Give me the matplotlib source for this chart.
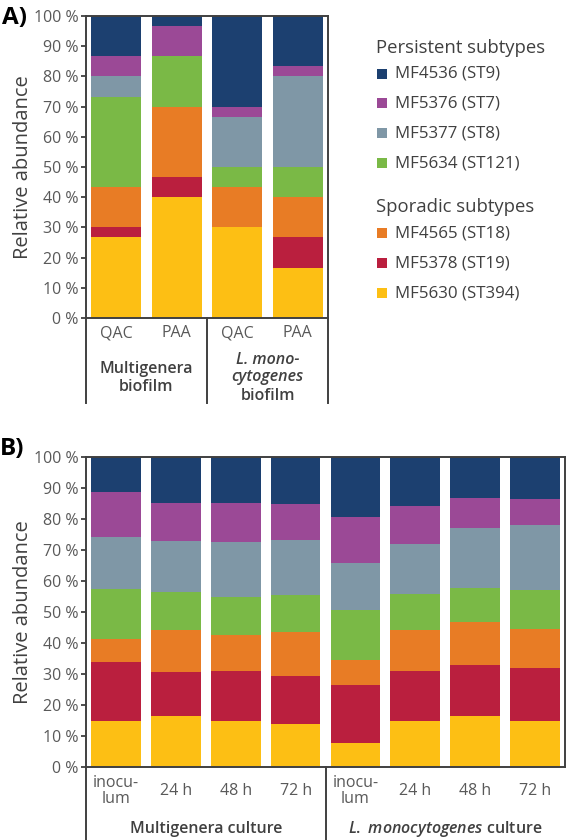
import matplotlib
matplotlib.use('Agg')
import matplotlib.pyplot as plt
import matplotlib.transforms as mtransforms
from matplotlib.patches import Rectangle
import numpy as np

plt.rcParams['font.family'] = ['Open Sans', 'DejaVu Sans']
plt.rcParams['mathtext.fontset'] = 'custom'
plt.rcParams['mathtext.it'] = 'Open Sans:italic:semibold'
plt.rcParams['mathtext.rm'] = 'Open Sans:semibold'

# strains, bottom to top of each stack
strains = ['MF5630 (ST394)', 'MF5378 (ST19)', 'MF4565 (ST18)', 'MF5634 (ST121)',
           'MF5377 (ST8)', 'MF5376 (ST7)', 'MF4536 (ST9)']
colors = ['#FDBF14', '#BA1F3E', '#E87C25', '#7AB946', '#7F97A6', '#9B4996', '#1C4070']

# panel A: QAC, PAA (multigenera) ; QAC, PAA (L. monocytogenes)
catsA = ['QAC', 'PAA', 'QAC', 'PAA']
A_MF5630 = [26.7, 40.0, 30.0, 16.7]
A_MF5378 = [3.3, 6.7, 0.0, 10.0]
A_MF4565 = [13.3, 23.3, 13.3, 13.3]
A_MF5634 = [30.0, 16.7, 6.7, 10.0]
A_MF5377 = [6.7, 0.0, 16.7, 30.0]
A_MF5376 = [6.7, 10.0, 3.3, 3.3]
A_MF4536 = [13.3, 3.3, 30.0, 16.7]

# panel B: inoculum, 24 h, 48 h, 72 h (multigenera) ; same for L. monocytogenes
catsB = ['inocu-\nlum', '24 h', '48 h', '72 h', 'inocu-\nlum', '24 h', '48 h', '72 h']
B_MF5630 = [14.9, 16.3, 15.0, 13.8, 7.8, 15.0, 16.5, 15.0]
B_MF5378 = [19.0, 14.4, 15.9, 15.4, 18.8, 16.1, 16.4, 16.8]
B_MF4565 = [7.4, 13.4, 11.8, 14.3, 8.0, 13.1, 13.9, 12.7]
B_MF5634 = [16.0, 12.4, 12.1, 11.9, 16.2, 11.6, 10.9, 12.6]
B_MF5377 = [16.9, 16.3, 17.8, 17.9, 15.0, 16.2, 19.3, 20.9]
B_MF5376 = [14.4, 12.5, 12.7, 11.5, 14.9, 12.1, 9.9, 8.6]
B_MF4536 = [11.4, 14.7, 14.7, 15.2, 19.3, 15.9, 13.1, 13.4]

dataA = [A_MF5630, A_MF5378, A_MF4565, A_MF5634, A_MF5377, A_MF5376, A_MF4536]
dataB = [B_MF5630, B_MF5378, B_MF4565, B_MF5634, B_MF5377, B_MF5376, B_MF4536]

W, H = 567, 840
TXT = '#595959'
DARK = '#404040'

fig = plt.figure(figsize=(W / 100, H / 100), dpi=100)


def add_ax(l, t, r, b):
    return fig.add_axes([l / W, 1 - b / H, (r - l) / W, (b - t) / H])


def draw_stack(ax, data, cats):
    n = len(cats)
    x = np.arange(n)
    bottom = np.zeros(n)
    for vals, c in zip(data, colors):
        ax.bar(x, vals, 0.83, bottom=bottom, color=c, linewidth=0)
        bottom += np.array(vals)
    ax.set_xlim(-0.5, n - 0.5)
    ax.set_ylim(0, 100)
    ax.set_yticks(range(0, 101, 10))
    ax.set_yticklabels([str(v) + ' %' for v in range(0, 101, 10)])
    ax.set_xticks([])
    for s in ax.spines.values():
        s.set_color(DARK)
        s.set_linewidth(1.4)
    ax.tick_params(axis='y', direction='out', length=3.5, width=1.3, color=DARK,
                   labelsize=11.5, labelcolor=TXT, pad=2)


# ---------------- panel A
tA, bA = 16, 318
axA = add_ax(86, tA, 328, bA)
draw_stack(axA, dataA, catsA)
trA = mtransforms.blended_transform_factory(axA.transData, axA.transAxes)


def yA(py):
    return (bA - py) / (bA - tA)


for i, c in enumerate(catsA):
    axA.text(i, yA(333), c, transform=trA, ha='center', va='center', fontsize=11.5, color=TXT)
axA.text(0.5, yA(369), 'Multigenera', transform=trA, ha='center', va='center',
         fontsize=11.5, fontweight='semibold', color=DARK)
axA.text(0.5, yA(387), 'biofilm', transform=trA, ha='center', va='center',
         fontsize=11.5, fontweight='semibold', color=DARK)
axA.text(2.5, yA(360), 'L. mono-', transform=trA, ha='center', va='center',
         fontsize=11.5, fontweight='semibold', style='italic', color=DARK)
axA.text(2.5, yA(377), 'cytogenes', transform=trA, ha='center', va='center',
         fontsize=11.5, fontweight='semibold', style='italic', color=DARK)
axA.text(2.5, yA(396), 'biofilm', transform=trA, ha='center', va='center',
         fontsize=11.5, fontweight='semibold', color=DARK)
for xv in [-0.5, 1.5, 3.5]:
    axA.plot([xv, xv], [0, yA(403)], transform=trA, color=DARK, lw=1.4, clip_on=False)
axA.text((23 - 86) / 242, 0.5, 'Relative abundance', transform=axA.transAxes, rotation=90,
         ha='center', va='center', fontsize=14.5, color=DARK)

# ---------------- panel B
tB, bB = 457, 767
axB = add_ax(86, tB, 565, bB)
draw_stack(axB, dataB, catsB)
trB = mtransforms.blended_transform_factory(axB.transData, axB.transAxes)


def yB(py):
    return (bB - py) / (bB - tB)


for i, c in enumerate(catsB):
    axB.text(i, yB(791), c, transform=trB, ha='center', va='center', fontsize=11.5,
             color=TXT, linespacing=1.05)
axB.text(1.5, yB(829), 'Multigenera culture', transform=trB, ha='center', va='center',
         fontsize=11.5, fontweight='semibold', color=DARK)
axB.text(5.5, yB(829), r'$\mathit{L.\ monocytogenes}$ culture', transform=trB,
         ha='center', va='center', fontsize=11.5, fontweight='semibold', color=DARK)
for xv in [-0.5, 3.5]:
    axB.plot([xv, xv], [0, yB(840)], transform=trB, color=DARK, lw=1.4, clip_on=False)
axB.text((23 - 86) / 479, 0.5, 'Relative abundance', transform=axB.transAxes, rotation=90,
         ha='center', va='center', fontsize=14.5, color=DARK)

# panel letters
fig.text(2 / W, 1 - 18 / H, 'A)', ha='left', va='center', fontsize=17.5, fontweight='bold', color='black')
fig.text(0 / W, 1 - 449 / H, 'B)', ha='left', va='center', fontsize=17.5, fontweight='bold', color='black')

# ---------------- legend
legend_groups = [('Persistent subtypes', 48, [6, 5, 4, 3], [74, 103, 133, 163]),
                 ('Sporadic subtypes', 207, [2, 1, 0], [233, 263, 293])]
for title, ty, idx, rows in legend_groups:
    fig.text(376 / W, 1 - ty / H, title, ha='left', va='center', fontsize=13.3, color=DARK)
    for k, ry in zip(idx, rows):
        fig.patches.append(Rectangle((377 / W, 1 - (ry + 5) / H), 10 / W, 10 / H,
                                     transform=fig.transFigure, facecolor=colors[k],
                                     edgecolor='none'))
        fig.text(395 / W, 1 - ry / H, strains[k], ha='left', va='center', fontsize=12.2,
                 color=DARK)

fig.savefig('out.png', dpi=100)
